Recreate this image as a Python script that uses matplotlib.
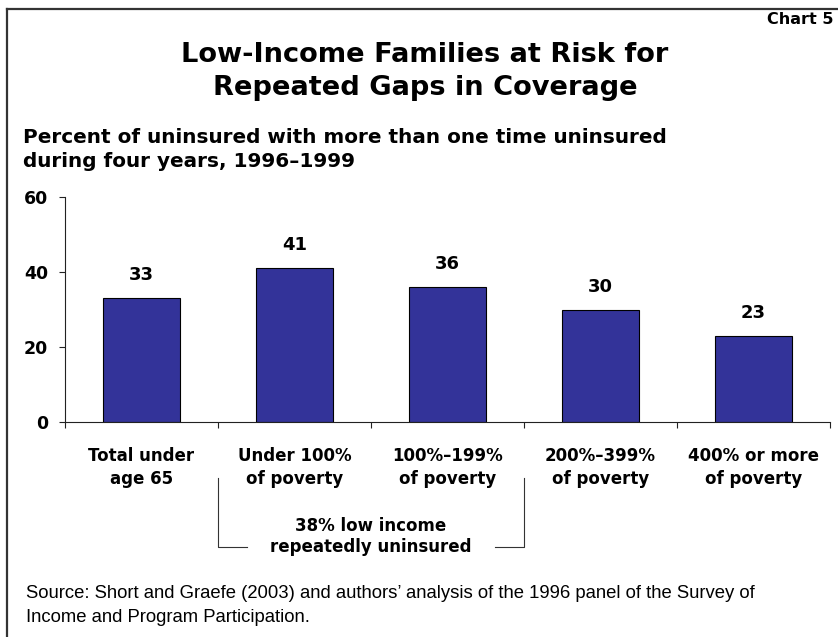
import matplotlib
matplotlib.use("Agg")
import matplotlib.pyplot as plt
from matplotlib.transforms import blended_transform_factory
from matplotlib.lines import Line2D

# Data
categories = ["Total under\nage 65", "Under 100%\nof poverty", "100%\u2013199%\nof poverty",
              "200%\u2013399%\nof poverty", "400% or more\nof poverty"]
values = [33, 41, 36, 30, 23]
y_ticks = [0, 20, 40, 60]
bracket_span = (1, 2)  # categories grouped as "low income"
bracket_label = "38% low income\nrepeatedly uninsured"

BAR_COLOR = "#333399"
W, H = 838, 637
fig = plt.figure(figsize=(W / 100, H / 100), dpi=100)
fig.patch.set_facecolor("white")

def fx(px):
    return px / W

def fy(py):
    return 1 - py / H

ax = fig.add_axes([fx(65), fy(422), fx(830) - fx(65), fy(197) - fy(422)])
x = list(range(len(values)))
ax.bar(x, values, width=0.5, color=BAR_COLOR, edgecolor="black", linewidth=0.8, zorder=2)
ax.set_xlim(-0.5, len(values) - 0.5)
ax.set_ylim(0, 60)

for s in ("top", "right"):
    ax.spines[s].set_visible(False)
for s in ("left", "bottom"):
    ax.spines[s].set_color("#222222")
    ax.spines[s].set_linewidth(0.8)

ax.set_yticks(y_ticks)
ax.set_yticklabels([str(t) for t in y_ticks], fontsize=12.5, fontweight="bold")
ax.tick_params(axis="y", direction="out", length=4.3, width=0.8, pad=8, color="#222222")

# boundaries between categories carry the tick marks, centres carry the labels
ax.set_xticks([i - 0.5 for i in range(len(values) + 1)])
ax.set_xticklabels([])
ax.tick_params(axis="x", which="major", direction="out", length=4.3, width=0.8, color="#222222")
ax.set_xticks(x, minor=True)
ax.set_xticklabels(categories, minor=True, fontsize=12, fontweight="bold", linespacing=1.35)
ax.tick_params(axis="x", which="minor", length=0, pad=18)

for xi, v in zip(x, values):
    ax.annotate(str(v), xy=(xi, v), xytext=(0, 23), textcoords="offset pixels",
                ha="center", va="center", fontsize=13, fontweight="bold")

# bracket under the low-income categories
bt = blended_transform_factory(ax.transData, fig.transFigure)
left_edge = bracket_span[0] - 0.5
right_edge = bracket_span[1] + 0.5
gap = 0.19
y_top, y_bot = fy(478), fy(547)
for xs, ys in [
    ([left_edge, left_edge, left_edge + gap], [y_top, y_bot, y_bot]),
    ([right_edge - gap, right_edge, right_edge], [y_bot, y_bot, y_top]),
]:
    fig.add_artist(Line2D(xs, ys, transform=bt, color="#333333", linewidth=0.8))
fig.text((left_edge + right_edge) / 2, fy(536.5), bracket_label, transform=bt,
         ha="center", va="center", fontsize=12, fontweight="bold", linespacing=1.2)

# titles
fig.text(fx(833), fy(24), "Chart 5", ha="right", va="baseline", fontsize=11.5, fontweight="bold")
fig.text(fx(425), fy(62), "Low-Income Families at Risk for", ha="center", va="baseline",
         fontsize=19.6, fontweight="bold")
fig.text(fx(425), fy(95), "Repeated Gaps in Coverage", ha="center", va="baseline",
         fontsize=19.6, fontweight="bold")
fig.text(fx(23), fy(143), "Percent of uninsured with more than one time uninsured",
         ha="left", va="baseline", fontsize=14.4, fontweight="bold")
fig.text(fx(23), fy(167), "during four years, 1996\u20131999",
         ha="left", va="baseline", fontsize=14.4, fontweight="bold")

# source note
fig.text(fx(26), fy(593),
         "Source: Short and Graefe (2003) and authors\u2019 analysis of the 1996 panel of the Survey of",
         ha="left", va="center", fontsize=13.3, family="Liberation Sans")
fig.text(fx(26), fy(618), "Income and Program Participation.",
         ha="left", va="center", fontsize=13.3, family="Liberation Sans")

# frame lines along the top and left
fig.add_artist(Line2D([fx(7), 1.0], [fy(9), fy(9)], transform=fig.transFigure,
                      color="#333333", linewidth=1.6))
fig.add_artist(Line2D([fx(7), fx(7)], [fy(9), 0.0], transform=fig.transFigure,
                      color="#333333", linewidth=1.6))

fig.savefig("out.png", dpi=100, facecolor="white")
